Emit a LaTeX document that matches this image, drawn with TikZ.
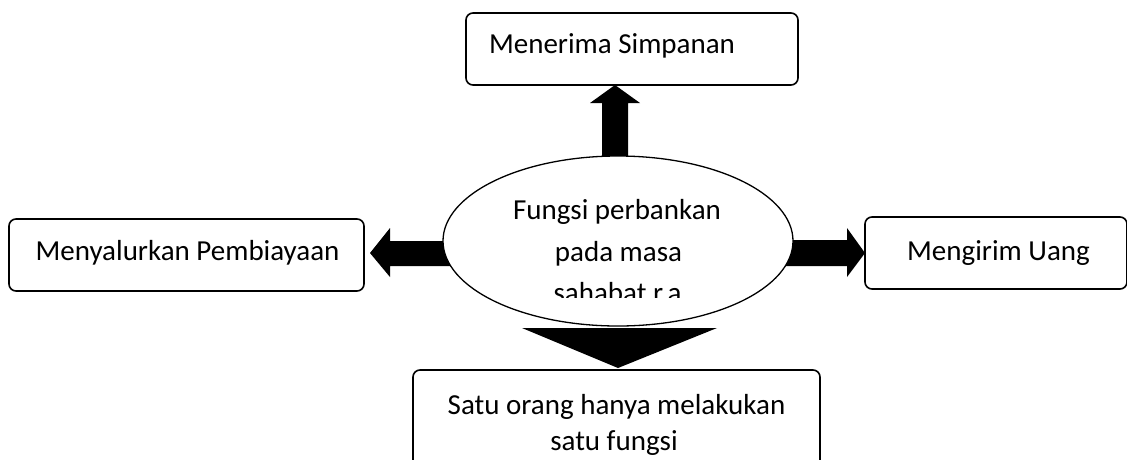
\documentclass[tikz,border=0pt]{standalone}
\usepackage{fontspec}
\setmainfont{Carlito}
\usetikzlibrary{shapes.geometric}
\begin{document}
\begin{tikzpicture}[x=1pt,y=-1pt,
  box/.style={draw, line width=1.6pt, rounded corners=7pt, inner sep=0pt},
  lbl/.style={anchor=base, inner sep=0pt, font=\fontsize{29}{35}\selectfont},
  blk/.style={fill=black}]
\useasboundingbox (0,0) rectangle (1127,459);
% boxes
\node[box, minimum width=332pt, minimum height=72pt] (top) at (632,49) {};
\node[box, minimum width=355pt, minimum height=72pt] (left) at (186.5,255) {};
\node[box, minimum width=262pt, minimum height=72pt] (right) at (996,253) {};
\node[box, minimum width=407pt, minimum height=120pt] (bottom) at (616.5,430) {};
% block arrows
\fill[blk] (452,241) -- (390,241) -- (390,228) -- (370,253) -- (390,277) -- (390,266) -- (452,266) -- cycle;
\fill[blk] (786,240) -- (847,240) -- (847,228) -- (865,253) -- (847,277) -- (847,266) -- (786,266) -- cycle;
\fill[blk] (602,170) -- (602,103) -- (590,103) -- (615,85) -- (640,103) -- (628,103) -- (628,170) -- cycle;
\fill[blk] (522,328) -- (717,328) -- (618,368) -- cycle;
% centre ellipse
\node[draw, ellipse, fill=white, line width=1.3pt, minimum width=350pt, minimum height=170pt, inner sep=0pt] (c) at (618,241) {};
% texts
\node[lbl] (ttop) at (612,53) {Menerima Simpanan};
\node[lbl] (tleft) at (187.5,260) {Menyalurkan Pembiayaan};
\node[lbl] (tright) at (998.5,260) {Mengirim Uang};
\begin{scope}
\clip (443,150) rectangle (793,297.5);
\node[lbl] (c1) at (617,219) {Fungsi perbankan};
\node[lbl] (c2) at (618.5,261) {pada masa};
\node[lbl] (c3) at (617.5,302) {sahabat r.a};
\end{scope}
\node[lbl] (b1) at (616.5,414) {Satu orang hanya melakukan};
\node[lbl] (b2) at (614,450) {satu fungsi};
\end{tikzpicture}
\end{document}
